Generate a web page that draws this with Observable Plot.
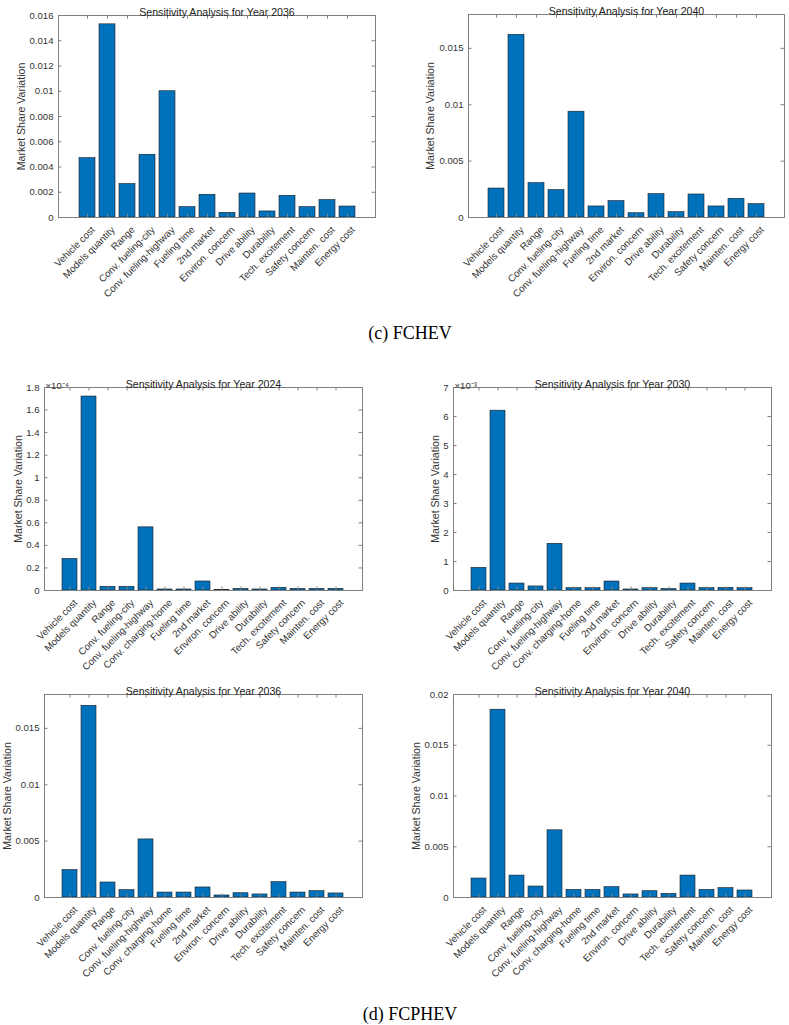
<!DOCTYPE html>
<html><head><meta charset="utf-8">
<script src="https://cdn.jsdelivr.net/npm/d3@7"></script>
<script src="https://cdn.jsdelivr.net/npm/@observablehq/plot@0.6"></script>
<style>
body{margin:0;background:#fff;}
#page{position:relative;width:789px;height:1025px;overflow:hidden;background:#fff;}
.panel{position:absolute;}
.caption{position:absolute;left:0;width:820px;text-align:center;font-family:"Liberation Serif","Times New Roman",serif;font-size:18px;line-height:18px;color:#000;}
</style></head><body><div id="page"></div>
<script>
// ---- data ----
const catsFCHEV = ["Vehicle cost","Models quantity","Range","Conv. fueling-city","Conv. fueling-highway","Fueling time","2nd market","Environ. concern","Drive ability","Durability","Tech. excitement","Safety concern","Mainten. cost","Energy cost"];
const catsFCPHEV = ["Vehicle cost","Models quantity","Range","Conv. fueling-city","Conv. fueling-highway","Conv. charging-home","Fueling time","2nd market","Environ. concern","Drive ability","Durability","Tech. excitement","Safety concern","Mainten. cost","Energy cost"];

const fchev2036 = [0.0047,0.0153,0.00265,0.00497,0.0100,0.00082,0.0018,0.00037,0.0019,0.00048,0.00172,0.00082,0.00138,0.00087];
const fchev2040 = [0.00257,0.0162,0.00305,0.00243,0.00938,0.00098,0.00145,0.00038,0.00207,0.00047,0.00204,0.00098,0.00166,0.00118];
const fcphev2024 = [0.28e-4,1.72e-4,0.033e-4,0.033e-4,0.56e-4,0.009e-4,0.009e-4,0.08e-4,0.005e-4,0.014e-4,0.009e-4,0.024e-4,0.014e-4,0.014e-4,0.014e-4];
const fcphev2030 = [0.78e-3,6.2e-3,0.24e-3,0.14e-3,1.61e-3,0.08e-3,0.08e-3,0.31e-3,0.035e-3,0.08e-3,0.05e-3,0.24e-3,0.08e-3,0.09e-3,0.08e-3];
const fcphev2036 = [0.00243,0.0170,0.00133,0.00065,0.00515,0.00044,0.00044,0.00089,0.00018,0.00038,0.00027,0.00136,0.00044,0.00056,0.00036];
const fcphev2040 = [0.00187,0.0185,0.00216,0.00108,0.00662,0.00075,0.00075,0.00102,0.0003,0.00062,0.00036,0.00216,0.00075,0.00092,0.00069];

const ticks2036a = [0,0.002,0.004,0.006,0.008,0.01,0.012,0.014,0.016];
const ticks2040a = [0,0.005,0.01,0.015];
const ticks2024 = [0,0.2e-4,0.4e-4,0.6e-4,0.8e-4,1e-4,1.2e-4,1.4e-4,1.6e-4,1.8e-4];
const ticks2030 = [0,1e-3,2e-3,3e-3,4e-3,5e-3,6e-3,7e-3];
const ticks2036b = [0,0.005,0.01,0.015];
const ticks2040b = [0,0.005,0.01,0.015,0.02];

const yLabel = "Market Share Variation";
const captions = ["(c) FCHEV","(d) FCPHEV"];

// ---- drawing ----
const page = document.getElementById("page");
const fmt = d3.format("~g");
const AX = "#808080", TXT = "#333";

function panel({title, cats, vals, domain, ticks, scale = 1, exponent, frame, colLeft, colWidth, labelOffset}) {
  const [fx0, fy0, fx1, fy1] = frame;
  const MT = 30, MB = 105;
  const ML = fx0 - colLeft, MR = colLeft + colWidth - fx1;
  const fw = fx1 - fx0, fh = fy1 - fy0;
  const H = fh + MT + MB;
  const tl = 3.5;
  const data = cats.map((c, i) => ({cat: c, v: vals[i]}));
  const marks = [
    Plot.barY(data, {x: "cat", y: "v", fill: "#0072BD", stroke: "#1c1c1c", strokeWidth: 0.6}),
    Plot.tickY(ticks, {y: d => d, stroke: AX, insetRight: fw - tl}),
    Plot.tickY(ticks, {y: d => d, stroke: AX, insetLeft: fw - tl}),
    Plot.tickX(cats, {x: d => d, stroke: AX, insetTop: fh - tl}),
    Plot.tickX(cats, {x: d => d, stroke: AX, insetBottom: fh - tl}),
    Plot.frame({stroke: AX}),
    Plot.text(cats, {x: d => d, text: d => d, frameAnchor: "bottom", rotate: -45, textAnchor: "end", lineAnchor: "top",
      dx: 3, dy: 8, fontSize: 9.8, fill: TXT}),
    Plot.axisY({label: null, ticks, tickSize: 0, tickPadding: 5, fontSize: 9.6, fill: TXT,
      tickFormat: d => fmt(+(d * scale).toPrecision(6))}),
    Plot.text([title], {text: d => d, frameAnchor: "top", dy: -7, fontSize: 10.6, fill: "#222"}),
    Plot.text([yLabel], {text: d => d, frameAnchor: "left", textAnchor: "middle", dx: -labelOffset, rotate: -90, fontSize: 10.6, fill: TXT})
  ];
  if (exponent) marks.push(Plot.text([exponent], {text: d => d, frameAnchor: "top-left", textAnchor: "start", dx: 1, dy: -5, fontSize: 9.6, fill: TXT}));
  const svg = Plot.plot({
    width: colWidth, height: H,
    marginLeft: ML, marginRight: MR, marginTop: MT, marginBottom: MB,
    style: {background: "transparent", overflow: "visible", fontFamily: "'Liberation Sans', Arial, sans-serif", color: TXT},
    x: {domain: cats, paddingInner: 0.2, paddingOuter: 0.8, axis: null},
    y: {domain, ticks},
    marks
  });
  const div = document.createElement("div");
  div.className = "panel";
  div.style.left = colLeft + "px";
  div.style.top = (fy0 - MT) + "px";
  div.style.width = colWidth + "px";
  div.appendChild(svg);
  page.appendChild(div);
}

panel({title: "Sensitivity Analysis for Year 2036", cats: catsFCHEV, vals: fchev2036, domain: [0, 0.016], ticks: ticks2036a,
  frame: [58, 15, 375, 217], colLeft: 0, colWidth: 395, labelOffset: 37});
panel({title: "Sensitivity Analysis for Year 2040", cats: catsFCHEV, vals: fchev2040, domain: [0, 0.018], ticks: ticks2040a,
  frame: [468, 14, 784, 217], colLeft: 395, colWidth: 394, labelOffset: 38});
panel({title: "Sensitivity Analysis for Year 2024", cats: catsFCPHEV, vals: fcphev2024, domain: [0, 1.8e-4], ticks: ticks2024, scale: 1e4, exponent: "×10⁻⁴",
  frame: [44, 387, 362, 590], colLeft: 0, colWidth: 395, labelOffset: 26});
panel({title: "Sensitivity Analysis for Year 2030", cats: catsFCPHEV, vals: fcphev2030, domain: [0, 7e-3], ticks: ticks2030, scale: 1e3, exponent: "×10⁻³",
  frame: [453, 387, 771, 590], colLeft: 395, colWidth: 394, labelOffset: 18});
panel({title: "Sensitivity Analysis for Year 2036", cats: catsFCPHEV, vals: fcphev2036, domain: [0, 0.018], ticks: ticks2036b,
  frame: [44, 694, 362, 897], colLeft: 0, colWidth: 395, labelOffset: 37});
panel({title: "Sensitivity Analysis for Year 2040", cats: catsFCPHEV, vals: fcphev2040, domain: [0, 0.02], ticks: ticks2040b,
  frame: [453, 694, 771, 897], colLeft: 395, colWidth: 394, labelOffset: 37});

const capTops = [324, 1005];
captions.forEach((t, i) => {
  const d = document.createElement("div");
  d.className = "caption";
  d.style.top = capTops[i] + "px";
  d.textContent = t;
  page.appendChild(d);
});
</script></body></html>
